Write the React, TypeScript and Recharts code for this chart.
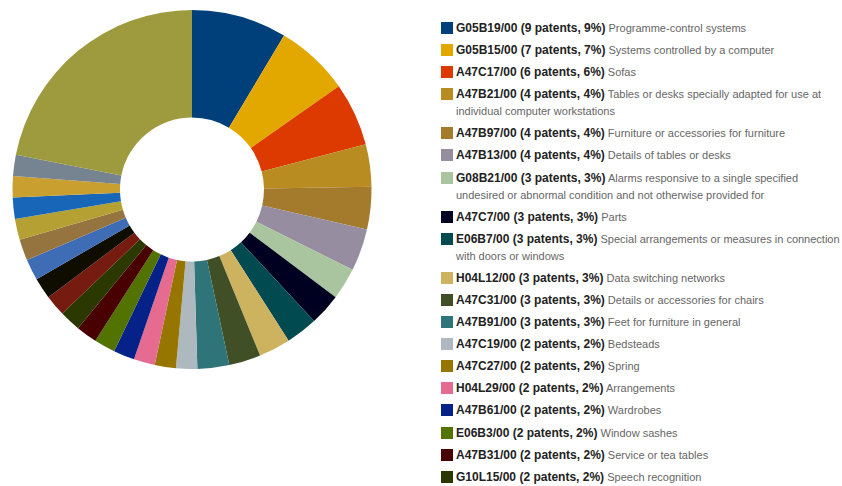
import { Cell, Legend, Pie, PieChart } from "recharts";

// Classification codes, in the order the slices run clockwise from 12 o'clock.
const codes = [
  "G05B19/00", "G05B15/00", "A47C17/00", "A47B21/00", "A47B97/00", "A47B13/00",
  "G08B21/00", "A47C7/00", "E06B7/00", "H04L12/00", "A47C31/00", "A47B91/00",
  "A47C19/00", "A47C27/00", "H04L29/00", "A47B61/00", "E06B3/00", "A47B31/00",
  "G10L15/00", "Other 1", "Other 2", "Other 3", "Other 4", "Other 5", "Other 6",
  "Other 7", "Other 8", "Others"
];

const patents = [9, 7, 6, 4, 4, 4, 3, 3, 3, 3, 3, 3, 2, 2, 2, 2, 2, 2, 2, 2, 2, 2, 2, 2, 2, 2, 2, 23];

const descriptions = [
  "Programme-control systems",
  "Systems controlled by a computer",
  "Sofas",
  "Tables or desks specially adapted for use at individual computer workstations",
  "Furniture or accessories for furniture",
  "Details of tables or desks",
  "Alarms responsive to a single specified undesired or abnormal condition and not otherwise provided for",
  "Parts",
  "Special arrangements or measures in connection with doors or windows",
  "Data switching networks",
  "Details or accessories for chairs",
  "Feet for furniture in general",
  "Bedsteads",
  "Spring",
  "Arrangements",
  "Wardrobes",
  "Window sashes",
  "Service or tea tables",
  "Speech recognition"
];

const colors = [
  "#00407a", "#e3a800", "#dc3a00", "#b88c20", "#a47a2c", "#968ea0",
  "#a9c5a0", "#000020", "#004a50", "#cdb25f", "#404f25", "#2e7478",
  "#adb9be", "#977600", "#e56b90", "#062288", "#527300", "#480000",
  "#2b3800", "#751b10", "#0e0d00", "#3e6db6", "#957440", "#b4a033",
  "#1866b8", "#c9a030", "#768390", "#9e9b3e"
];

const total = patents.reduce((a, b) => a + b, 0);
const data = codes.map((code, i) => ({ code, patents: patents[i] }));

function LegendList() {
  return (
    <div style={{ fontFamily: "'Liberation Sans', Arial, sans-serif", fontSize: 11, lineHeight: "17px" }}>
      {descriptions.map((desc, i) => (
        <div key={codes[i]} style={{ display: "flex", alignItems: "flex-start", marginBottom: 5.1 }}>
          <span
            style={{
              display: "inline-block",
              width: 12,
              height: 12,
              marginTop: 2,
              marginRight: 3,
              flexShrink: 0,
              background: colors[i]
            }}
          />
          <span style={{ color: "#666" }}>
            <b style={{ color: "#222", fontSize: 12 }}>
              {codes[i]} ({patents[i]} patents, {Math.round((patents[i] / total) * 100)}%)
            </b>{" "}
            {desc}
          </span>
        </div>
      ))}
    </div>
  );
}

export default function App() {
  return (
    <div style={{ position: "absolute", left: 0, top: 0, width: 842, height: 486, background: "#fff" }}>
      <PieChart width={842} height={486} margin={{ top: 0, right: 0, bottom: 0, left: 0 }}>
        <Pie
          data={data}
          dataKey="patents"
          nameKey="code"
          cx={192}
          cy={189.5}
          innerRadius={72}
          outerRadius={179.5}
          startAngle={90}
          endAngle={-270}
          stroke="none"
          isAnimationActive={false}
        >
          {data.map((d, i) => (
            <Cell key={d.code} fill={colors[i]} />
          ))}
        </Pie>
        <Legend
          layout="vertical"
          align="right"
          verticalAlign="top"
          content={() => <LegendList />}
          wrapperStyle={{ left: 441, top: 20, width: 401 }}
        />
      </PieChart>
    </div>
  );
}
